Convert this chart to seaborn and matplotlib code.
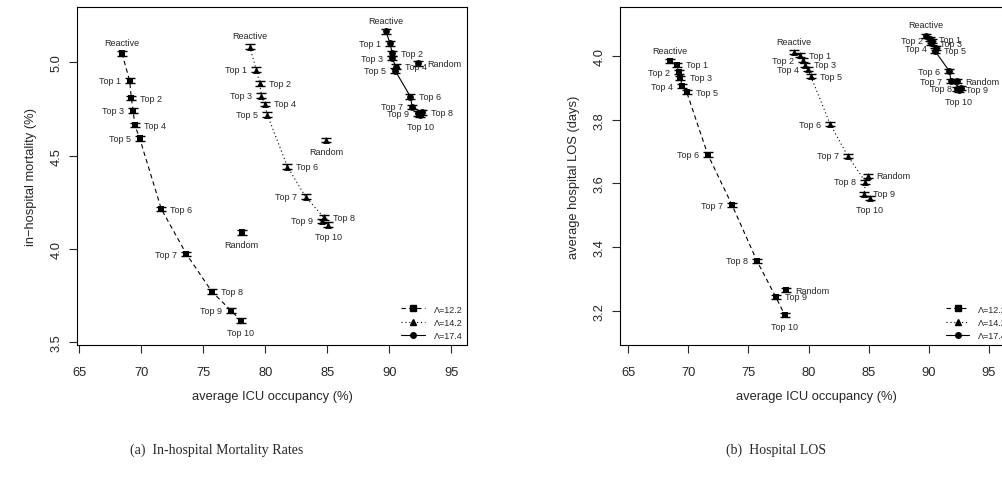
import matplotlib
matplotlib.use("Agg")
import matplotlib.pyplot as plt
from matplotlib.lines import Line2D
import seaborn as sns

# point labels (same order in every series)
labels = ["Reactive", "Top 1", "Top 2", "Top 3", "Top 4", "Top 5", "Top 6",
          "Top 7", "Top 8", "Top 9", "Top 10", "Random"]

# average ICU occupancy (%)
occ_122 = [68.45, 69.07, 69.20, 69.35, 69.48, 69.87, 71.62, 73.64, 75.70, 77.26, 78.03, 78.10]
occ_142 = [78.75, 79.28, 79.55, 79.69, 79.95, 80.17, 81.79, 83.25, 84.73, 84.61, 85.10, 84.91]
occ_174 = [89.73, 90.06, 90.24, 90.20, 90.56, 90.48, 91.71, 91.85, 92.65, 92.33, 92.49, 92.30]

# in-hospital mortality (%)
mort_122 = [5.048, 4.901, 4.809, 4.741, 4.664, 4.594, 4.214, 3.973, 3.771, 3.669, 3.616, 4.089]
mort_142 = [5.084, 4.960, 4.889, 4.821, 4.777, 4.719, 4.441, 4.280, 4.169, 4.150, 4.131, 4.584]
mort_174 = [5.166, 5.103, 5.048, 5.023, 4.976, 4.955, 4.816, 4.761, 4.732, 4.728, 4.718, 4.995]

# average hospital LOS (days)
los_122 = [3.984, 3.973, 3.950, 3.932, 3.906, 3.887, 3.691, 3.532, 3.357, 3.244, 3.186, 3.265]
los_142 = [4.013, 4.004, 3.988, 3.973, 3.960, 3.938, 3.787, 3.687, 3.605, 3.567, 3.554, 3.624]
los_174 = [4.065, 4.054, 4.049, 4.041, 4.026, 4.018, 3.953, 3.921, 3.900, 3.897, 3.894, 3.922]

# where each label sits: a=above, b=below, l=left, r=right
mort_sides = {
    "12.2": list("alrlrlrlrlbb"),
    "14.2": list("alrlrlrlrlbb"),
    "17.4": list("alrlrlrlrlbr"),
}
los_sides = {
    "12.2": list("arlrlrlllrbr"),
    "14.2": list("arlrlrlllrbr"),
    "17.4": list("arlrlrlllrbr"),
}

legend_labels = ["Λ=12.2", "Λ=14.2", "Λ=17.4"]

#%%
sns.set_style("ticks")
plt.rcParams["font.family"] = ["Liberation Sans", "DejaVu Sans"]

styles = {
    "12.2": dict(marker="s", ls=(0, (4, 3))),
    "14.2": dict(marker="^", ls=(0, (1, 2.5))),
    "17.4": dict(marker="o", ls="-"),
}

offsets = {"a": (0, 8, "center", "center"), "b": (0, -8.5, "center", "center"),
           "l": (-6.5, 0, "right", "center"), "r": (6.5, 0, "left", "center")}


def draw_series(ax, xs, ys, sides, key, err):
    st = styles[key]
    # line through Reactive, Top 1 ... Top 10 (not Random)
    sns.lineplot(x=xs[:11], y=ys[:11], ax=ax, color="black", sort=False,
                 estimator=None, linestyle=st["ls"], linewidth=0.8)
    ax.errorbar(xs, ys, yerr=err, fmt="none", ecolor="black", elinewidth=1.0,
                capsize=3.8, capthick=1.0)
    sns.scatterplot(x=xs, y=ys, ax=ax, color="black", marker=st["marker"],
                    s=24, linewidth=0, zorder=3)
    for x, y, lab, sd in zip(xs, ys, labels, sides):
        dx, dy, ha, va = offsets[sd]
        ax.annotate(lab, (x, y), xytext=(dx, dy), textcoords="offset points",
                    ha=ha, va=va, fontsize=6.5)


def style_axes(ax, xlim, ylim, yticks, ylabel):
    ax.set_xlim(*xlim)
    ax.set_ylim(*ylim)
    ax.set_xticks([65, 70, 75, 80, 85, 90, 95])
    ax.set_yticks(yticks)
    ax.set_yticklabels([f"{t:.1f}" for t in yticks], rotation=90, va="center")
    ax.tick_params(direction="out", length=6, width=0.8, labelsize=9.3)
    ax.tick_params(axis="x", pad=9)
    ax.tick_params(axis="y", pad=4)
    for s in ax.spines.values():
        s.set_linewidth(0.8)
        s.set_color("black")
    ax.set_xlabel("average ICU occupancy (%)", fontsize=9.3, labelpad=9)
    ax.set_ylabel(ylabel, fontsize=9.3, labelpad=10)
    handles = [Line2D([], [], color="black", lw=0.8, ls=styles[k]["ls"],
                      marker=styles[k]["marker"], markersize=4)
               for k in ["12.2", "14.2", "17.4"]]
    ax.legend(handles, legend_labels, loc="lower right", frameon=False,
              fontsize=6.5, labelspacing=0.45, handlelength=2.6,
              handletextpad=1.0, borderaxespad=0.15)


fig = plt.figure(figsize=(10.03, 4.89), dpi=100)
ax1 = fig.add_axes([0.0765, 0.293, 0.3895, 0.690])
ax2 = fig.add_axes([0.618, 0.293, 0.3911, 0.690])

draw_series(ax1, occ_122, mort_122, mort_sides["12.2"], "12.2", 0.013)
draw_series(ax1, occ_142, mort_142, mort_sides["14.2"], "14.2", 0.013)
draw_series(ax1, occ_174, mort_174, mort_sides["17.4"], "17.4", 0.013)
style_axes(ax1, (64.8, 96.3), (3.487, 5.295), [3.5, 4.0, 4.5, 5.0],
           "in\u2212hospital mortality (%)")

draw_series(ax2, occ_122, los_122, los_sides["12.2"], "12.2", 0.0065)
draw_series(ax2, occ_142, los_142, los_sides["14.2"], "14.2", 0.0065)
draw_series(ax2, occ_174, los_174, los_sides["17.4"], "17.4", 0.0065)
style_axes(ax2, (64.31, 96.92), (3.093, 4.154), [3.2, 3.4, 3.6, 3.8, 4.0],
           "average hospital LOS (days)")

fig.text(0.216, 0.08, "(a)  In-hospital Mortality Rates", ha="center", va="center",
         fontsize=10, family="Liberation Serif")
fig.text(0.774, 0.08, "(b)  Hospital LOS", ha="center", va="center",
         fontsize=10, family="Liberation Serif")

fig.savefig("out.png", dpi=100)
